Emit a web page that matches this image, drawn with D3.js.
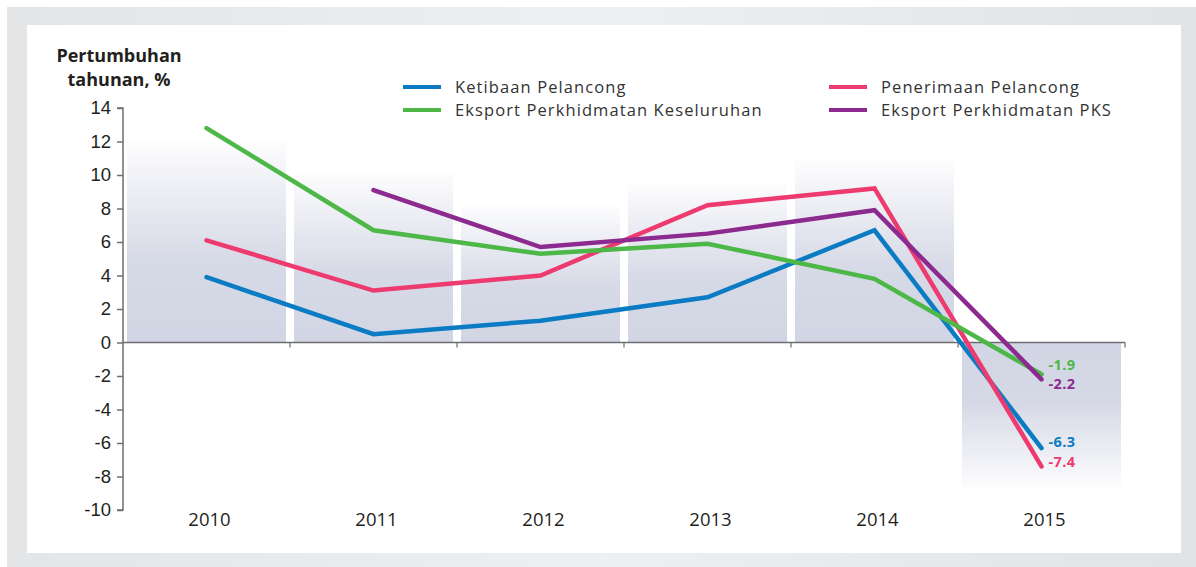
<!DOCTYPE html>
<html>
<head>
<meta charset="utf-8">
<script src="https://cdn.jsdelivr.net/npm/d3@7"></script>
<style>
  body { margin: 0; background: #fff; }
  svg { display: block; font-family: "Open Sans", Lato, sans-serif; }
</style>
</head>
<body>
<div id="chart"></div>
<script>
// data
const years = ['2010', '2011', '2012', '2013', '2014', '2015'];
const ketibaan = [3.9, 0.5, 1.3, 2.7, 6.7, -6.3];
const penerimaan = [6.1, 3.1, 4.0, 8.2, 9.2, -7.4];
const eksportAll = [12.8, 6.7, 5.3, 5.9, 3.8, -1.9];
const eksportPks = [null, 9.1, 5.7, 6.5, 7.9, -2.2];
const shadeBars = [12.0, 10.1, 8.2, 9.5, 10.9, -8.7];
const yTicks = [14, 12, 10, 8, 6, 4, 2, 0, -2, -4, -6, -8, -10];

const series = [
    { name: 'Ketibaan Pelancong', values: ketibaan, color: '#0b7cc3' },
    { name: 'Penerimaan Pelancong', values: penerimaan, color: '#ee3b6f' },
    { name: 'Eksport Perkhidmatan Keseluruhan', values: eksportAll, color: '#4db848' },
    { name: 'Eksport Perkhidmatan PKS', values: eksportPks, color: '#8c2a8f' }
];

const W = 1196, H = 567;
const svg = d3.select('#chart').append('svg').attr('width', W).attr('height', H);
const defs = svg.append('defs');
const num = v => String(v).replace('\u2212', '-');

// frame
const frameGrad = defs.append('linearGradient').attr('id', 'frame').attr('x1', 0).attr('x2', 1);
frameGrad.append('stop').attr('offset', 0).attr('stop-color', '#e4e5e7');
frameGrad.append('stop').attr('offset', 0.5).attr('stop-color', '#eeeff0');
frameGrad.append('stop').attr('offset', 1).attr('stop-color', '#e2e3e5');
svg.append('rect').attr('x', 7).attr('y', 7).attr('width', W - 7).attr('height', H - 7).attr('fill', 'url(#frame)');
svg.append('rect').attr('x', 27).attr('y', 25).attr('width', 1154).attr('height', 528).attr('fill', '#fff');

const x = d3.scaleBand().domain(years).range([123, 1125]);
const y = d3.scaleLinear().domain([-10, 14]).range([510, 108]);

// shaded background columns
const upGrad = defs.append('linearGradient').attr('id', 'up').attr('x1', 0).attr('x2', 0).attr('y1', 1).attr('y2', 0);
upGrad.append('stop').attr('offset', 0).attr('stop-color', '#d2d6e4');
upGrad.append('stop').attr('offset', 0.4).attr('stop-color', '#d6d9e6');
upGrad.append('stop').attr('offset', 1).attr('stop-color', '#fdfdfe');
const downGrad = defs.append('linearGradient').attr('id', 'down').attr('x1', 0).attr('x2', 0).attr('y1', 0).attr('y2', 1);
downGrad.append('stop').attr('offset', 0).attr('stop-color', '#d2d6e4');
downGrad.append('stop').attr('offset', 0.4).attr('stop-color', '#d5d8e5');
downGrad.append('stop').attr('offset', 1).attr('stop-color', '#fdfdfe');

svg.append('g').selectAll('rect').data(shadeBars).join('rect')
    .attr('x', (d, i) => x(years[i]) + 4)
    .attr('width', x.bandwidth() - 8)
    .attr('y', d => d >= 0 ? y(d) : y(0))
    .attr('height', d => Math.abs(y(d) - y(0)))
    .attr('fill', d => d >= 0 ? 'url(#up)' : 'url(#down)');

// axes
const axisColor = '#6d6e71';
const yAxis = svg.append('g').attr('transform', 'translate(123,0)')
    .call(d3.axisLeft(y).tickValues(yTicks).tickSize(6).tickPadding(6).tickFormat(num));
yAxis.select('.domain').attr('stroke', axisColor).attr('stroke-width', 1.5).attr('d', `M-6,${y(14)}H0V${y(-10)}H-6`);
yAxis.selectAll('.tick line').attr('stroke', axisColor).attr('stroke-width', 1.5);
yAxis.selectAll('.tick text').attr('font-size', 18.5).attr('fill', '#231f20');

const xAxis = svg.append('g').attr('transform', `translate(0,${y(0)})`);
xAxis.append('line').attr('x1', 123).attr('x2', 1125).attr('stroke', axisColor).attr('stroke-width', 1.5);
xAxis.selectAll('line.tk').data(years).join('line').attr('class', 'tk')
    .attr('x1', d => x(d) + x.bandwidth()).attr('x2', d => x(d) + x.bandwidth())
    .attr('y1', 0).attr('y2', 5).attr('stroke', axisColor).attr('stroke-width', 1.2);
svg.append('g').selectAll('text').data(years).join('text')
    .attr('x', d => x(d) + x.bandwidth() / 2 + 3)
    .attr('y', 526)
    .attr('text-anchor', 'middle')
    .attr('font-size', 18.5).attr('fill', '#231f20')
    .text(d => d);

// y title
svg.append('text').attr('x', 119).attr('y', 62).attr('text-anchor', 'middle')
    .attr('font-size', 18).attr('font-weight', 'bold').attr('fill', '#231f20')
    .selectAll('tspan').data(['Pertumbuhan', 'tahunan, %']).join('tspan')
    .attr('x', 119).attr('dy', (d, i) => i ? 24 : 0).text(d => d);

// lines
const cx = d => x(d) + x.bandwidth() / 2;
const line = d3.line()
    .defined(d => d.v !== null)
    .x(d => cx(d.year))
    .y(d => y(d.v));

svg.append('g').selectAll('path').data(series).join('path')
    .attr('d', s => line(s.values.map((v, i) => ({ year: years[i], v }))))
    .attr('fill', 'none')
    .attr('stroke', s => s.color)
    .attr('stroke-width', 4.5)
    .attr('stroke-linecap', 'round')
    .attr('stroke-linejoin', 'miter');

// end labels (nudged so they don't collide)
const endLabels = [
    { s: series[2], dy: -9 },
    { s: series[3], dy: 5 },
    { s: series[0], dy: -6 },
    { s: series[1], dy: -5 }
];
svg.append('g').selectAll('text').data(endLabels).join('text')
    .attr('x', cx('2015') + 7)
    .attr('y', d => y(d.s.values[5]) + d.dy)
    .attr('dy', '0.35em')
    .attr('font-size', 14.5).attr('font-weight', 'bold')
    .attr('letter-spacing', 0.4)
    .attr('fill', d => d.s.color)
    .text(d => num(d3.format('.1f')(d.s.values[5])));

// legend
const legendPos = [
    { s: series[0], x: 403, y: 87 },
    { s: series[2], x: 403, y: 110 },
    { s: series[1], x: 829, y: 87 },
    { s: series[3], x: 829, y: 110 }
];
const lg = svg.append('g').selectAll('g').data(legendPos).join('g')
    .attr('transform', d => `translate(${d.x},${d.y})`);
lg.append('line').attr('x1', 0).attr('x2', 38)
    .attr('stroke', d => d.s.color).attr('stroke-width', 4);
lg.append('text').attr('x', 52).attr('dy', '0.35em')
    .attr('font-size', 16.5).attr('letter-spacing', 1.1).attr('fill', '#333')
    .text(d => d.s.name);
</script>
</body>
</html>
